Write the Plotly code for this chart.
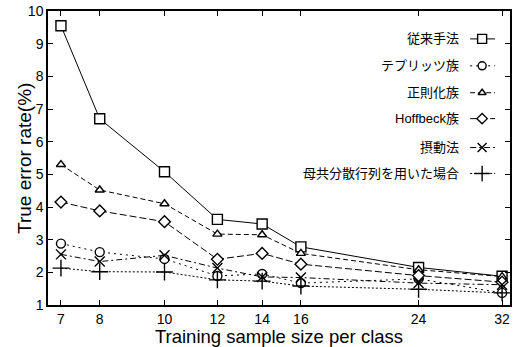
import plotly.graph_objects as go

sample_sizes = [7, 8, 10, 12, 14, 16, 24, 32]
x_tick_labels = ["7", "8", "10", "12", "14", "16", "24", "32"]
y_tick_values = [1, 2, 3, 4, 5, 6, 7, 8, 9, 10]

conventional = [9.55, 6.70, 5.08, 3.62, 3.48, 2.78, 2.15, 1.88]
toeplitz = [2.88, 2.62, 2.41, 1.89, 1.95, 1.67, 1.80, 1.37]
regularized = [5.30, 4.52, 4.10, 3.17, 3.15, 2.58, 2.08, 1.87]
hoffbeck = [4.15, 3.88, 3.55, 2.40, 2.58, 2.25, 1.90, 1.70]
perturbation = [2.55, 2.33, 2.52, 2.13, 1.86, 1.84, 1.67, 1.62]
population = [2.13, 2.02, 2.01, 1.77, 1.73, 1.58, 1.48, 1.37]

series_names = ["従来手法", "テプリッツ族", "正則化族", "Hoffbeck族", "摂動法", "母共分散行列を用いた場合"]
series_values = [conventional, toeplitz, regularized, hoffbeck, perturbation, population]
series_symbols = ["square", "circle", "triangle-up", "diamond", "x-thin-open", "cross-thin-open"]
series_fill = ["white", "white", "white", "white", "black", "black"]
series_sizes = [10, 9, 8, 9, 10, 12]
series_dash = ["solid", "2px,4px", "5px,3px", "7px,3px", "6px,3px,2px,3px", "2px,2px"]

LATIN = "Liberation Sans, Arial, sans-serif"
MIXED = "Liberation Sans, Noto Sans CJK JP, sans-serif"

fig = go.Figure()

for name, vals, sym, fill, size, dash in zip(series_names, series_values, series_symbols,
                                               series_fill, series_sizes, series_dash):
    fig.add_trace(go.Scatter(
        x=sample_sizes, y=vals, mode="lines+markers", name=name,
        line=dict(color="black", width=1, dash=dash),
        marker=dict(symbol=sym, size=size, color=fill,
                    line=dict(color="black", width=1.4)),
        showlegend=False, xaxis="x", yaxis="y",
    ))

# legend samples on a hidden overlay axis measured in pixels
legend_rows = [38, 65, 92, 118, 147, 173]
for name, sym, fill, size, dash, ry in zip(series_names, series_symbols, series_fill,
                                           series_sizes, series_dash, legend_rows):
    fig.add_trace(go.Scatter(
        x=[472, 497], y=[ry, ry], mode="lines", showlegend=False,
        line=dict(color="black", width=1, dash=dash),
        xaxis="x2", yaxis="y2", hoverinfo="skip",
    ))
    fig.add_trace(go.Scatter(
        x=[484], y=[ry], mode="markers", showlegend=False,
        marker=dict(symbol=sym, size=size - 1, color=fill,
                    line=dict(color="black", width=1.4)),
        xaxis="x2", yaxis="y2", hoverinfo="skip",
    ))
    fig.add_annotation(
        x=463, y=ry, xref="x2", yref="y2", text=name, showarrow=False,
        xanchor="right", yanchor="middle",
        font=dict(family=MIXED, size=13, color="black"),
    )

# y axis title placed as rotated text (paper coordinates)
fig.add_annotation(
    x=-0.052, y=0.50, xref="paper", yref="paper", text="True error rate(%)",
    showarrow=False, textangle=-90, xanchor="center", yanchor="middle",
    font=dict(family=LATIN, size=19, color="black"),
)

fig.update_layout(
    width=515, height=347,
    margin=dict(l=48, r=3, t=10, b=42),
    paper_bgcolor="white", plot_bgcolor="white",
    xaxis=dict(
        type="log", range=[0.8257, 1.517],
        tickvals=sample_sizes, ticktext=x_tick_labels,
        ticks="inside", ticklen=5, tickcolor="black",
        showline=True, linecolor="black", linewidth=1.5, mirror="allticks",
        showgrid=False, zeroline=False,
        tickfont=dict(family=LATIN, size=14, color="black"),
        title=dict(text="Training sample size per class",
                   font=dict(family=LATIN, size=18.5, color="black"), standoff=4),
    ),
    yaxis=dict(
        range=[1, 10], tickvals=y_tick_values,
        ticks="inside", ticklen=5, tickcolor="black",
        showline=True, linecolor="black", linewidth=1.5, mirror="allticks",
        showgrid=False, zeroline=False,
        tickfont=dict(family=LATIN, size=14, color="black"),
    ),
    xaxis2=dict(overlaying="x", range=[48, 512], visible=False, domain=[0, 1]),
    yaxis2=dict(overlaying="y", range=[305, 10], visible=False),
)

fig.write_html("out.html")
